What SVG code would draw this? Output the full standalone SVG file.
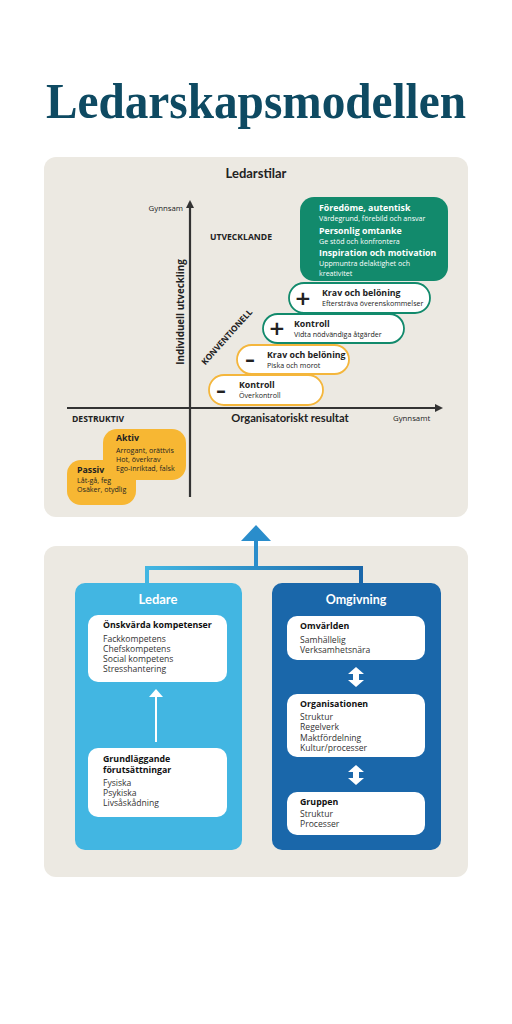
<svg xmlns="http://www.w3.org/2000/svg" width="512" height="1024" viewBox="0 0 512 1024">
<defs>
<style>
.sans{font-family:"Open Sans",Lato,"Liberation Sans",sans-serif}
.lato{font-family:Lato,"Open Sans","Liberation Sans",sans-serif}
.t{font-family:"Open Sans",Lato,"Liberation Sans",sans-serif;fill:#222}
.b{font-weight:bold}
.w{fill:#fff}
.panel{fill:#ece9e2}
.pill{fill:#fff;stroke-width:1.8}
.g{stroke:#128a6c}
.y{stroke:#f4b63c}
.sm{font-size:7.1px}
.bt{font-size:8.8px;font-weight:bold}
.sign{font-family:"DejaVu Sans",sans-serif;font-size:20px;font-weight:bold;fill:#222;text-anchor:middle}
.wb{fill:#fff}
.it{font-family:"Open Sans",Lato,"Liberation Sans",sans-serif;font-size:8.6px;fill:#333}
.ht{font-family:"Open Sans",Lato,"Liberation Sans",sans-serif;font-size:8.8px;font-weight:bold;fill:#111}
</style>
<linearGradient id="blueg" x1="0" y1="0" x2="1" y2="0">
<stop offset="0" stop-color="#42b6e2"/>
<stop offset="1" stop-color="#1a67aa"/>
</linearGradient>
<marker id="ah" markerWidth="8" markerHeight="8" refX="6" refY="4" orient="auto" markerUnits="userSpaceOnUse">
<path d="M0,0 L8,4 L0,8 z" fill="#333"/>
</marker>
</defs>
<rect width="512" height="1024" fill="#fff"/>

<text x="256" y="118" text-anchor="middle" font-family="'Liberation Serif','DejaVu Serif',serif" font-weight="bold" font-size="50" fill="#0e4a62" textLength="420" lengthAdjust="spacingAndGlyphs">Ledarskapsmodellen</text>

<!-- top panel -->
<g id="ledarstilar-panel">
<rect class="panel" x="44" y="157" width="424" height="360" rx="12"/>
<text class="lato b" x="256" y="178" text-anchor="middle" font-size="13" fill="#222">Ledarstilar</text>
</g>

<!-- axes -->
<g id="axes" stroke="#333" stroke-width="2.2" fill="none">
<line x1="190" y1="497" x2="190" y2="202" marker-end="url(#ah)"/>
<line x1="67" y1="408" x2="441" y2="408" marker-end="url(#ah)"/>
</g>
<g id="axis-labels">
<text class="t" x="183" y="211" text-anchor="end" font-size="7.8" fill="#444">Gynnsam</text>
<text class="t b" x="210" y="240" font-size="8.6">UTVECKLANDE</text>
<text class="t b" transform="translate(184,312) rotate(-90)" text-anchor="middle" font-size="9.8">Individuell utveckling</text>
<text class="t b" transform="translate(229,339) rotate(-48)" text-anchor="middle" font-size="8.4">KONVENTIONELL</text>
<text class="lato b" x="290" y="422" text-anchor="middle" font-size="11.2" fill="#222">Organisatoriskt resultat</text>
<text class="t" x="393" y="421" font-size="7.8" fill="#444">Gynnsamt</text>
<text class="t b" x="72" y="422" font-size="8.6">DESTRUKTIV</text>
</g>

<!-- green box -->
<g id="utvecklande-box">
<rect x="300" y="197" width="148" height="84" rx="14" fill="#128a6c"/>
<text class="sans w bt" x="319" y="211" font-size="9">Föredöme, autentisk</text>
<text class="sans w sm" x="319" y="221">Värdegrund, förebild och ansvar</text>
<text class="sans w bt" x="319" y="234" font-size="9">Personlig omtanke</text>
<text class="sans w sm" x="319" y="244">Ge stöd och konfrontera</text>
<text class="sans w bt" x="319" y="256" font-size="9">Inspiration och motivation</text>
<text class="sans w sm" x="319" y="266">Uppmuntra delaktighet och</text>
<text class="sans w sm" x="319" y="276">kreativitet</text>
</g>

<g id="krav-plus">
<rect class="pill g" x="289" y="283" width="141" height="30" rx="15"/>
<text class="sign" x="303" y="305">+</text>
<text class="t bt" x="322" y="296">Krav och belöning</text>
<text class="t sm" x="322" y="306">Eftersträva överenskommelser</text>
</g>
<g id="kontroll-plus">
<rect class="pill g" x="263" y="314" width="141" height="29" rx="14.5"/>
<text class="sign" x="277" y="335">+</text>
<text class="t bt" x="294" y="327">Kontroll</text>
<text class="t sm" x="294" y="337">Vidta nödvändiga åtgärder</text>
</g>
<g id="krav-minus">
<rect class="pill y" x="237" y="345" width="112" height="29" rx="14.5"/>
<text class="sign" x="250" y="366">–</text>
<text class="t bt" x="267" y="358">Krav och belöning</text>
<text class="t sm" x="267" y="368">Piska och morot</text>
</g>
<g id="kontroll-minus">
<rect class="pill y" x="209" y="375" width="114" height="30" rx="15"/>
<text class="sign" x="221" y="397">–</text>
<text class="t bt" x="239" y="388">Kontroll</text>
<text class="t sm" x="239" y="398">Överkontroll</text>
</g>

<g id="destruktiv">
<rect x="103" y="429" width="83" height="51" rx="14" fill="#f7b733"/>
<rect x="67" y="460" width="69" height="45" rx="14" fill="#f7b733"/>
<rect x="100" y="470" width="20" height="16" fill="#f7b733"/>
<text class="t bt" x="116" y="441">Aktiv</text>
<text class="t sm" x="116" y="453">Arrogant, orättvis</text>
<text class="t sm" x="116" y="462">Hot, överkrav</text>
<text class="t sm" x="116" y="471">Ego-inriktad, falsk</text>
<text class="t bt" x="77" y="473">Passiv</text>
<text class="t sm" x="77" y="483">Låt-gå, feg</text>
<text class="t sm" x="77" y="492">Osäker, otydlig</text>
</g>

<!-- bottom panel -->
<g id="bottom-panel">
<rect class="panel" x="44" y="546" width="424" height="331" rx="12"/>
</g>

<g id="ledare">
<rect x="75" y="583" width="167" height="267" rx="10" fill="#42b6e2"/>
<text class="lato b w" x="158" y="604" text-anchor="middle" font-size="13">Ledare</text>
</g>
<g id="omgivning">
<rect x="272" y="583" width="169" height="267" rx="10" fill="#1a67aa"/>
<text class="lato b w" x="356" y="604" text-anchor="middle" font-size="12.5">Omgivning</text>
</g>

<g id="connectors">
<path d="M147,583 V568 H361 V583" fill="none" stroke="url(#blueg)" stroke-width="4"/>
<line x1="256" y1="568" x2="256" y2="540" stroke="#2a8dcb" stroke-width="4"/>
<polygon points="256,525 271,541 241,541" fill="#2a8dcb"/>
<line x1="156" y1="742" x2="156" y2="695" stroke="#fff" stroke-width="2"/>
<polygon points="156,689 163,697 149,697" fill="#fff"/>
<polygon points="356,667 364,674 359,674 359,680 364,680 356,687 348,680 353,680 353,674 348,674" fill="#fff"/>
<polygon points="356,765 364,772 359,772 359,778 364,778 356,785 348,778 353,778 353,772 348,772" fill="#fff"/>
</g>

<g id="onskvarda">
<rect class="wb" x="88" y="615" width="139" height="67" rx="10"/>
<text class="ht" x="103" y="628">Önskvärda kompetenser</text>
<text class="it" x="103" y="642">Fackkompetens</text>
<text class="it" x="103" y="652">Chefskompetens</text>
<text class="it" x="103" y="662">Social kompetens</text>
<text class="it" x="103" y="672">Stresshantering</text>
</g>
<g id="grundlaggande">
<rect class="wb" x="88" y="748" width="139" height="69" rx="10"/>
<text class="ht" x="103" y="762">Grundläggande</text>
<text class="ht" x="103" y="773">förutsättningar</text>
<text class="it" x="103" y="786">Fysiska</text>
<text class="it" x="103" y="796">Psykiska</text>
<text class="it" x="103" y="806">Livsåskådning</text>
</g>
<g id="omvarlden">
<rect class="wb" x="287" y="616" width="138" height="44" rx="10"/>
<text class="ht" x="300" y="629">Omvärlden</text>
<text class="it" x="300" y="643">Samhällelig</text>
<text class="it" x="300" y="653">Verksamhetsnära</text>
</g>
<g id="organisationen">
<rect class="wb" x="287" y="694" width="138" height="63" rx="10"/>
<text class="ht" x="300" y="707">Organisationen</text>
<text class="it" x="300" y="720">Struktur</text>
<text class="it" x="300" y="730">Regelverk</text>
<text class="it" x="300" y="741">Maktfördelning</text>
<text class="it" x="300" y="751">Kultur/processer</text>
</g>
<g id="gruppen">
<rect class="wb" x="287" y="792" width="138" height="43" rx="10"/>
<text class="ht" x="300" y="805">Gruppen</text>
<text class="it" x="300" y="817">Struktur</text>
<text class="it" x="300" y="827">Processer</text>
</g>
</svg>
